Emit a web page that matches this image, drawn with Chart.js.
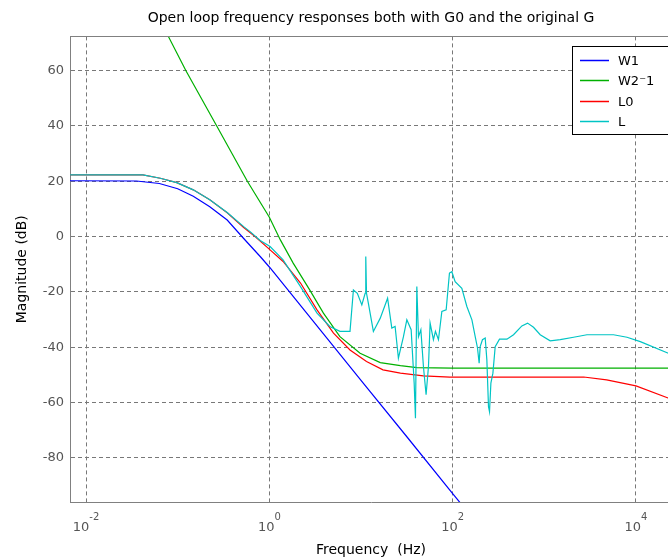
<!DOCTYPE html>
<html>
<head>
<meta charset="utf-8">
<title>Open loop frequency responses</title>
<script src="https://cdn.jsdelivr.net/npm/chart.js@4.4.1/dist/chart.umd.min.js"></script>
<style>
html, body { margin: 0; padding: 0; background: #fff; overflow: hidden; }
canvas { display: block; }
</style>
</head>
<body>
<canvas id="bodechart" width="744" height="559"></canvas>
<script>
// frequencies are kept as log10(Hz), magnitudes in dB
var xTickExp = [-2, 0, 2, 4];
var yTicks = [-80, -60, -40, -20, 0, 20, 40, 60];
var seriesLabels = ['W1', 'W2\u207B1', 'L0', 'L'];
var seriesColors = ['#0000ff', '#00b000', '#ff0000', '#00c4c4'];

var w1LogHz = [-2.2, -1.45, -1.2, -1.0, -0.83, -0.65, -0.46, -0.28, -0.10, 0.0, 0.5, 1.0, 1.5, 2.0, 2.2];
var w1Db = [20.2, 20.1, 19.2, 17.3, 14.6, 10.8, 6.0, -0.7, -7.2, -11.0, -31.5, -52.0, -72.4, -93.0, -101.0];

var w2LogHz = [-1.2, -1.10, -0.91, -0.574, -0.24, 0.0, 0.12, 0.26, 0.44, 0.59, 0.77, 0.99, 1.21, 1.43, 1.61, 2.0, 4.4];
var w2Db = [78.0, 72.3, 60.0, 40.0, 20.0, 7.0, -1.2, -9.6, -19.3, -27.7, -36.2, -42.2, -45.6, -46.7, -47.4, -47.6, -47.6];

var l0LogHz = [-2.2, -1.38, -1.19, -1.01, -0.83, -0.65, -0.46, -0.28, -0.156, 0.008, 0.15, 0.34, 0.52, 0.70, 0.88, 1.06, 1.24, 1.43, 1.68, 1.97, 3.43, 3.68, 4.0, 4.35, 4.4];
var l0Db = [22.3, 22.3, 21.1, 19.5, 16.9, 13.3, 8.6, 3.3, 0.0, -4.8, -9.0, -16.8, -26.5, -34.9, -41.0, -45.2, -48.2, -49.4, -50.4, -50.8, -50.8, -51.8, -54.0, -58.4, -59.2];

var lLogHz = [-2.2, -1.38, -1.19, -1.01, -0.83, -0.65, -0.46, -0.28, -0.21, -0.10, 0.008, 0.15, 0.34, 0.52, 0.66, 0.77, 0.88,
	0.917, 0.96, 1.009, 1.045, 1.052, 1.06, 1.08, 1.135, 1.21, 1.29, 1.336, 1.372, 1.408, 1.463, 1.5, 1.547, 1.58, 1.594,
	1.609, 1.627, 1.653, 1.681, 1.71, 1.736, 1.754, 1.79, 1.812, 1.845, 1.882, 1.929, 1.965, 1.991, 2.027, 2.10, 2.155,
	2.21, 2.246, 2.271, 2.289, 2.30, 2.325, 2.355, 2.373, 2.391, 2.402, 2.417, 2.439, 2.464, 2.511, 2.592, 2.664, 2.755,
	2.817, 2.882, 2.955, 3.064, 3.174, 3.319, 3.465, 3.755, 3.902, 4.047, 4.353, 4.4];
var lDb = [22.3, 22.3, 21.1, 19.5, 16.9, 13.3, 8.7, 3.6, 1.8, -1.4, -3.6, -8.4, -18.1, -27.7, -32.5, -34.3, -34.3,
	-19.3, -20.5, -24.7, -20.5, -7.2, -20.5, -24.1, -34.3, -29.5, -22.3, -33.1, -32.5, -44.0, -36.2, -30.1, -33.7, -53.0, -65.7,
	-18.1, -36.2, -33.7, -47.0, -57.2, -47.0, -31.3, -37.3, -34.3, -37.3, -27.1, -26.5, -13.2, -12.7, -16.3, -18.7, -25.3,
	-30.1, -36.2, -40.3, -45.8, -39.8, -37.3, -36.7, -44.6, -61.5, -63.3, -53.0, -49.4, -39.8, -37.1, -37.1, -35.5, -32.3,
	-31.3, -32.8, -35.5, -37.7, -37.3, -36.4, -35.5, -35.5, -36.4, -38.0, -42.2, -42.8];

var xMinExp = -2.175;
var xMaxExp = 4.393;
var yMin = -96.0;
var yMax = 72.4;

var fontFamily = '"DejaVu Sans", Verdana, sans-serif';

function toPoints(logHz, db) {
	var pts = [];
	for (let i = 0; i < logHz.length; i++) {
		pts.push({ x: Math.pow(10, logHz[i]), y: db[i] });
	}
	return pts;
}

// matlab style frame top, decade labels and boxed legend
var matlabDecor = {
	id: 'matlabDecor',
	afterDraw: function (chart) {
		var ctx = chart.ctx;
		var area = chart.chartArea;
		var xs = chart.scales.x;

		ctx.save();
		ctx.strokeStyle = '#808080';
		ctx.lineWidth = 1;
		ctx.beginPath();
		ctx.moveTo(area.left, Math.floor(area.top) + 0.5);
		ctx.lineTo(area.right, Math.floor(area.top) + 0.5);
		ctx.stroke();

		// 10^n tick labels
		ctx.fillStyle = '#555';
		ctx.textBaseline = 'alphabetic';
		ctx.textAlign = 'left';
		xTickExp.forEach(function (e) {
			var px = xs.getPixelForValue(Math.pow(10, e));
			var sup = String(e);
			ctx.font = '13px ' + fontFamily;
			var wb = ctx.measureText('10').width;
			ctx.font = '10px ' + fontFamily;
			var ws = ctx.measureText(sup).width;
			var x0 = px - (wb + ws) / 2;
			ctx.font = '13px ' + fontFamily;
			ctx.fillText('10', x0, 531);
			ctx.font = '10px ' + fontFamily;
			ctx.fillText(sup, x0 + wb, 520);
		});

		// legend
		var bx = 572.5, by = 46.5, bw = 140, bh = 88;
		ctx.fillStyle = '#fff';
		ctx.fillRect(bx, by, bw, bh);
		ctx.strokeStyle = '#000';
		ctx.strokeRect(bx, by, bw, bh);
		ctx.font = '13px ' + fontFamily;
		ctx.textBaseline = 'middle';
		for (let i = 0; i < seriesLabels.length; i++) {
			var ly = Math.round(59.5 + i * 20.6) + 0.5;
			ctx.strokeStyle = seriesColors[i];
			ctx.lineWidth = 1.5;
			ctx.beginPath();
			ctx.moveTo(580, ly);
			ctx.lineTo(609, ly);
			ctx.stroke();
			ctx.fillStyle = '#000';
			ctx.fillText(seriesLabels[i], 618, ly + 1);
		}
		ctx.restore();
	}
};

var ctx = document.getElementById('bodechart').getContext('2d');
var bodeChart = new Chart(ctx, {
	type: 'line',
	data: {
		datasets: [{
			label: seriesLabels[0],
			data: toPoints(w1LogHz, w1Db),
			borderColor: seriesColors[0],
			order: 3
		}, {
			label: seriesLabels[1],
			data: toPoints(w2LogHz, w2Db),
			borderColor: seriesColors[1],
			order: 2
		}, {
			label: seriesLabels[2],
			data: toPoints(l0LogHz, l0Db),
			borderColor: seriesColors[2],
			order: 1
		}, {
			label: seriesLabels[3],
			data: toPoints(lLogHz, lDb),
			borderColor: seriesColors[3],
			order: 0
		}]
	},
	options: {
		responsive: false,
		animation: false,
		devicePixelRatio: 1,
		events: [],
		layout: {
			padding: { left: 0, right: 72, top: 0, bottom: 0 }
		},
		elements: {
			line: { borderWidth: 1.2, tension: 0, fill: false },
			point: { radius: 0 }
		},
		plugins: {
			legend: { display: false },
			tooltip: { enabled: false },
			title: {
				display: true,
				fullSize: false,
				text: 'Open loop frequency responses both with G0 and the original G',
				color: '#000',
				font: { family: fontFamily, size: 14, weight: 'normal' },
				padding: { top: 10, bottom: 9.6 }
			}
		},
		scales: {
			x: {
				type: 'logarithmic',
				min: Math.pow(10, xMinExp),
				max: Math.pow(10, xMaxExp),
				afterBuildTicks: function (axis) {
					axis.ticks = xTickExp.map(function (e) { return { value: Math.pow(10, e) }; });
				},
				afterFit: function (axis) {
					axis.height = 57;
				},
				ticks: { display: false },
				grid: { color: '#787878', drawTicks: false },
				border: { color: '#808080', dash: [4, 3] },
				title: {
					display: true,
					text: 'Frequency  (Hz)',
					color: '#000',
					font: { family: fontFamily, size: 14 },
					padding: { top: 0, bottom: 0 }
				}
			},
			y: {
				type: 'linear',
				min: yMin,
				max: yMax,
				afterBuildTicks: function (axis) {
					axis.ticks = yTicks.map(function (v) { return { value: v }; });
				},
				afterFit: function (axis) {
					axis.width = 70;
				},
				ticks: {
					color: '#555',
					padding: 6,
					font: { family: fontFamily, size: 13 }
				},
				grid: { color: '#787878', drawTicks: false },
				border: { color: '#808080', dash: [4, 3] },
				title: {
					display: true,
					text: 'Magnitude (dB)',
					color: '#000',
					font: { family: fontFamily, size: 14 },
					padding: { top: 14, bottom: 0 }
				}
			}
		}
	},
	plugins: [matlabDecor]
});
</script>
</body>
</html>
